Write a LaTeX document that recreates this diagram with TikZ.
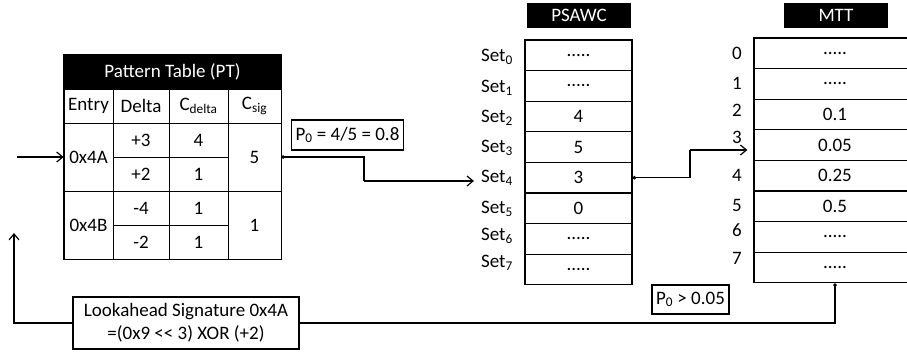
\documentclass[tikz,border=0pt]{standalone}
\usepackage{fontspec}
\setmainfont{Carlito}
\usetikzlibrary{arrows.meta}
\newcommand{\fivedots}{.....}

\begin{document}
\begin{tikzpicture}[x=1pt,y=-1pt,
  every node/.style={font=\fontsize{19}{23}\selectfont, inner sep=0pt},
  cell/.style={draw, line width=0.8pt},
  bigcell/.style={draw, line width=1.3pt},
  titlebar/.style={fill=black, text=white},
  valbox/.style={draw, line width=1.3pt, inner xsep=4pt},
  conn/.style={line width=1.2pt},
  tip/.style={-{Straight Barb[length=6pt,width=10pt]}}]
\path[use as bounding box] (0,0) rectangle (907,354);
\clip (0,0) rectangle (907,354);

% pattern table
\node[titlebar, minimum width=217pt, minimum height=34pt] (pt) at (172.5,72) {Pattern Table (PT)};
\node[cell, minimum width=49pt, minimum height=34pt] (entry) at (88.5,106) {Entry};
\node[cell, minimum width=56pt, minimum height=34pt] (delta) at (141,106) {Delta};
\node[cell, minimum width=59pt, minimum height=34pt] (cdelta) at (198.5,106) {C\textsubscript{delta}};
\node[cell, minimum width=53pt, minimum height=34pt] (csig) at (254.5,106) {C\textsubscript{sig}};
\foreach \d/\c [count=\i] in {+3/4, +2/1, -4/1, -2/1} {
  \node[cell, minimum width=56pt, minimum height=34pt] (dl\i) at (141,106+34*\i) {\d};
  \node[cell, minimum width=59pt, minimum height=34pt] (cd\i) at (198.5,106+34*\i) {\c};
}
\node[cell, minimum width=49pt, minimum height=68pt] (e4A) at (88.5,157) {0x4A};
\node[cell, minimum width=49pt, minimum height=68pt] (e4B) at (88.5,225) {0x4B};
\node[cell, minimum width=53pt, minimum height=68pt] (s5) at (254.5,157) {5};
\node[cell, minimum width=53pt, minimum height=68pt] (s1) at (254.5,225) {1};
\draw[line width=1.3pt] (pt.north west) rectangle (s1.south east);

\coordinate (in) at (17,157);
\draw[conn,tip] (in) -- (e4A.west);

\node[valbox, minimum width=109pt, minimum height=30pt] (p0) at (347.5,135) {P\textsubscript{0} = 4/5 = 0.8};

% PSAWC
\node[titlebar, minimum width=104pt, minimum height=25pt] (psawc) at (579,15.5) {PSAWC};
\foreach \v [count=\i from 0] in {\fivedots,\fivedots,4,5,3,0,\fivedots,\fivedots}
  \node[bigcell, minimum width=107pt, minimum height=30.6pt] (ps\i) at (578.5,55.3+30.6*\i) {\v};
\foreach \i/\yy in {0/57,1/88,2/118,3/148,4/178,5/209,6/236,7/263}
  \node[anchor=east, inner xsep=4pt] (set\i) at (517,\yy) {Set\textsubscript{\i}};

% MTT
\node[titlebar, minimum width=104pt, minimum height=25pt] (mtt) at (836,15.5) {MTT};
\foreach \v [count=\i from 0] in {\fivedots,\fivedots,0.1,0.05,0.25,0.5,\fivedots,\fivedots}
  \node[bigcell, minimum width=162pt, minimum height=30.6pt] (mt\i) at (835,53.3+30.6*\i) {\v};
\foreach \i/\yy in {0/53,1/83,2/110,3/137,4/175,5/205,6/230,7/258}
  \node (ix\i) at (737,\yy) {\i};

\node[valbox, minimum width=77pt, minimum height=29pt] (p1) at (690.5,299.5) {P\textsubscript{0} > 0.05};

\node[bigcell, align=center, minimum width=226pt, minimum height=52pt] (look) at (186,323)
  {Lookahead Signature 0x4A\\=(0x9 <\kern0pt< 3) XOR (+2)};

% connectors
\coordinate (k1) at (364,181);
\draw[conn,{Circle[length=3.5pt]}-] (s5.east) -| (k1);
\draw[conn,tip,shorten >=3pt] (k1) -- (k1 -| set4.west);
\coordinate (k2) at (690,150);
\draw[conn,{Circle[length=3.5pt]}-] (ps4.east) -| (k2);
\draw[conn,tip,shorten >=6pt] (k2) -- (k2 -| mt3.west);
\draw[conn,{Circle[length=3.5pt]}-] (mt7.south) |- (look.east);
\coordinate (k3) at (14,233);
\draw[conn,tip] (look.west) -| (k3);
\end{tikzpicture}
\end{document}
